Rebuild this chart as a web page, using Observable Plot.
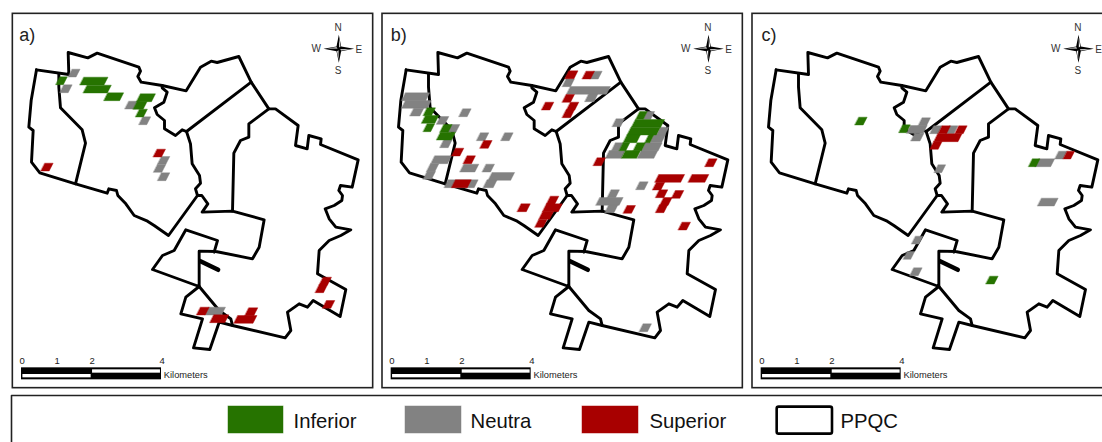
<!DOCTYPE html>
<html>
<head>
<meta charset="utf-8">
<style>html,body{margin:0;padding:0;background:#fff}svg{display:block}</style>
<script src="https://cdn.jsdelivr.net/npm/d3@7"></script>
<script src="https://cdn.jsdelivr.net/npm/@observablehq/plot@0.6"></script>
</head>
<body>
<script>
const panelNames = ["a)", "b)", "c)"];
const panelShift = [0, 1109, 2219];
const panelLabelNudge = [0, 6, 8];
const classNames = ["Neutra", "Inferior", "Superior"];
const classColors = ["#828282", "#267300", "#a80000"];

// Boundary of the study area (PPQC), one list per stretch
const boundaryOuter = [[108,208],[205,222],[203,156],[262,172],[290,158],[415,200],[420,212],[412,228],[422,245],[485,255],[557,271],[600,200],[632,182],[650,186],[715,168],[752,245],[805,325],[825,325],[893,375],[885,435],[920,445],[925,405],[962,415],[960,432],[1073,478],[1055,560],[1020,555],[1015,570],[1026,585],[1024,600],[1001,615],[974,625],[986,655],[1006,680],[1051,688],[1021,705],[986,720],[956,750],[951,820],[1036,867],[1019,948],[938,900],[921,920],[896,910],[861,935],[871,990],[854,1012],[696,975],[656,965],[628,1047],[579,1042],[606,955],[541,940],[556,890],[596,858]];
const boundarySouth = [[596,858],[656,930],[691,955],[696,975]];
const boundaryWest = [[108,208],[92,300],[85,380],[98,390],[93,485],[118,517],[225,550],[320,578],[325,565],[348,570],[352,585],[376,610],[401,645],[441,662],[461,675],[504,705],[591,585]];
const boundaryDivider = [[175,220],[175,260],[180,322],[245,388],[255,428],[225,550]];
const boundaryCentre = [[485,255],[485,262],[500,275],[490,305],[462,322],[470,342],[492,360],[492,385],[525,405],[545,388],[558,393],[570,430],[575,490],[597,525],[600,548],[585,565],[591,585],[604,585],[622,610],[605,635],[696,632],[791,658],[776,740],[756,775],[646,753],[596,752],[596,858],[456,807],[486,765],[521,750],[556,688],[651,720],[641,755]];
const boundaryDiagonal = [[558,393],[752,245]];
const boundaryEast = [[805,325],[745,370],[745,410],[720,420],[700,458],[696,632]];
const boundaryStub = [[600,782],[653,808]];

// Raster runs: left end of the row, row top, number of cells in the row
const neutraA = [[215,206,.95],[190,253,1],[385,302,1.3],[427,349,.95],[483,468,1],[471,492,1],[483,517,1],[625,920,2]];
const inferiorA = [[178,229,.9],[250,230,2.9],[260,254,2.9],[322,277,1.9],[420,280,1.8],[410,303,1.2],[417,326,.95]];
const superiorA = [[133,488,1],[470,446,1],[600,920,1.05],[640,943,1.8],[745,922,1.08],[712,945,2.3],[968,830,1],[956,853,1],[978,900,1]];

const neutraB = [[106,277,2.9],[106,300,3.1],[131,323,1.2],[278,325,1],[211,348,1],[244,372,1],[221,418,1],[331,397,1],[404,397,1],[194,466,2],[181,490,1],[171,513,1],[281,491,1.8],[348,491,1],[366,516,2.7],[351,538,1.2],[234,538,3.6],[588,235,1],[671,212,1],[601,258,4.8],[656,280,1.1],[738,355,1],[831,333,.9],[871,380,1],[851,403,1.4],[826,427,2],[736,427,1],[718,450,1.9],[813,450,2],[723,568,1],[689,591,2.8],[716,613,1.1],[809,544,1],[819,970,1]];
const inferiorB = [[171,322,1],[166,345,1.6],[171,370,.9],[221,372,1],[211,395,1.8],[809,333,.9],[796,357,3.5],[783,380,3.5],[771,403,1.6],[836,403,.6],[759,427,.8],[801,427,1],[766,450,1.8]];
const superiorB = [[256,443,1],[291,466,1],[341,420,1],[256,538,1.9],[453,610,1.1],[541,587,1],[529,610,1.9],[518,633,1.3],[506,657,1],[596,211,1.1],[648,212,1],[588,282,1],[526,305,1],[601,305,1],[588,328,1],[681,472,1],[866,522,3.1],[859,545,1],[868,568,1],[916,570,1],[881,591,1],[868,613,1],[966,522,2],[1016,475,1],[771,615,1],[936,665,1]];

const neutraC = [[546,352,1],[511,375,2],[524,398,1.1],[581,376,1],[628,376,1],[594,493,.9],[896,475,1.9],[956,452,1],[904,593,2],[526,707,.9],[501,753,.9],[521,802,1]];
const inferiorC = [[356,350,1],[488,373,.9],[877,475,.9],[749,827,1]];
const superiorC = [[606,376,1],[656,376,1],[593,400,2.9],[581,423,1],[981,452,.9]];

const scaleTicks = [0, 1, 2, 4];
const legendLabels = ["Inferior", "Neutra", "Superior", "PPQC"];
const compassLabels = ["N", "W", "E", "S"];
const compassStar = [[0,-42],[7,-7],[46,0],[7,7],[0,42],[-7,7],[-46,0],[-7,-7]];
const compassLights = [
  [[1,-33],[5,-7],[1,-4]], [[-1,33],[-5,7],[-1,4]],
  [[-36,-1],[-7,-5],[-4,-1]], [[36,1],[7,5],[4,1]]
];

// Build tables
const cellW = 25, cellH = 23.5, cellSkew = 12;
const runs = [
  [neutraA,0,0],[neutraB,1,0],[neutraC,2,0],
  [inferiorA,0,1],[inferiorB,1,1],[inferiorC,2,1],
  [superiorA,0,2],[superiorB,1,2],[superiorC,2,2]
];
const cellPts = [];
let id = 0;
for (const [list, p, c] of runs) for (const [x, y, n] of list) {
  id++;
  const dx = panelShift[p];
  for (const [px, py] of [[x,y],[x+n*cellW,y],[x+n*cellW-cellSkew,y+cellH],[x-cellSkew,y+cellH]])
    cellPts.push({x: px+dx, y: py, id, cls: classNames[c]});
}
const lines = [boundaryOuter,boundarySouth,boundaryWest,boundaryDivider,boundaryCentre,boundaryDiagonal,boundaryEast];
const boundaryPts = [], stubPts = [];
panelShift.forEach((dx, p) => {
  lines.forEach((l, i) => l.forEach(([x,y]) => boundaryPts.push({x: x+dx, y, id: p+"-"+i})));
  boundaryStub.forEach(([x,y]) => stubPts.push({x: x+dx, y, id: p}));
});
const panels = panelNames.map((name, i) => ({name, dx: panelShift[i], nudge: panelLabelNudge[i]}));

const centre = [1015, 145];
const starPts = [], lightPts = [];
panels.forEach(({dx}, p) => {
  compassStar.forEach(([a,b]) => starPts.push({x: centre[0]+dx+a, y: centre[1]+b, id: p}));
  compassLights.forEach((t, k) => t.forEach(([a,b]) => lightPts.push({x: centre[0]+dx+a, y: centre[1]+b, id: p+"-"+k})));
});
const compassOffsets = {N:[-2,-63], W:[-68,0], E:[60,2], S:[-2,65]};
const compassText = panels.flatMap(({dx}) => compassLabels.map(t => ({t, x: centre[0]+dx+compassOffsets[t][0], y: centre[1]+compassOffsets[t][1]})));

const kmUnits = 105, barLeft = 63;
const scaleText = panels.flatMap(({dx}) => scaleTicks.map(k => ({t: String(k), x: barLeft+dx+k*kmUnits+2})));
const bar = (a, b, y1, y2) => panels.map(({dx}) => ({x1: barLeft+dx+a*kmUnits, x2: barLeft+dx+b*kmUnits, y1, y2}));

const legendSwatch = [{c:"Inferior",x1:684,x2:849},{c:"Neutra",x1:1215,x2:1383},{c:"Superior",x1:1746,x2:1914}];
const legendText = [879,1410,1947,2520].map((x,i)=>({x,t:legendLabels[i]}));

const font = "Liberation Sans, Arial, sans-serif";
const chart = Plot.plot({
  width: 1102, height: 442,
  marginLeft: 0, marginRight: 0, marginTop: 0, marginBottom: 0,
  style: {background: "#fff"},
  x: {domain: [0, 3306], range: [0, 1102], axis: null},
  y: {domain: [0, 1326], range: [0, 442], axis: null},
  color: {domain: classNames, range: classColors},
  marks: [
    // panel frames
    Plot.rect(panels, {x1: d => 37+d.dx, x2: d => 1118+d.dx, y1: 40, y2: 1163, fill: "none", stroke: "#222", strokeWidth: 1.6}),
    // legend frame
    Plot.line([[33,1340],[33,1185],[3320,1185]], {x: d=>d[0], y: d=>d[1], stroke: "#222", strokeWidth: 1.6}),
    // boundary
    Plot.line(boundaryPts, {x:"x", y:"y", z:"id", stroke:"#000", strokeWidth:2.9, strokeLinejoin:"round", strokeLinecap:"round"}),
    Plot.line(stubPts, {x:"x", y:"y", z:"id", stroke:"#000", strokeWidth:4.4, strokeLinecap:"round"}),
    // raster cells
    Plot.line(cellPts, {x:"x", y:"y", z:"id", fill:"cls", stroke:"cls", strokeWidth:.4, curve:"linear-closed"}),
    // compass
    Plot.line(starPts, {x:"x", y:"y", z:"id", fill:"#000", stroke:"none", curve:"linear-closed"}),
    Plot.line(lightPts, {x:"x", y:"y", z:"id", fill:"#fff", stroke:"none", curve:"linear-closed"}),
    Plot.text(compassText, {x:"x", y:"y", text:"t", fontSize:10, fontFamily:font, fill:"#333"}),
    // panel letters
    Plot.text(panels, {x: d=>56+d.dx+d.nudge, y:104, text:"name", textAnchor:"start", fontSize:18, fontFamily:font, fill:"#222"}),
    // scale bars
    Plot.rect(bar(0,4,1102,1138), {x1:"x1",x2:"x2",y1:"y1",y2:"y2", fill:"#000"}),
    Plot.rect(bar(2.03,3.97,1108,1118), {x1:"x1",x2:"x2",y1:"y1",y2:"y2", fill:"#fff"}),
    Plot.rect(bar(.04,1.99,1122,1132), {x1:"x1",x2:"x2",y1:"y1",y2:"y2", fill:"#fff"}),
    Plot.text(scaleText, {x:"x", y:1082, text:"t", fontSize:9.5, fontFamily:font, fill:"#222"}),
    Plot.text(panels, {x:d=>490+d.dx, y:1125, text:()=>"Kilometers", textAnchor:"start", fontSize:9.3, fontFamily:font, fill:"#222"}),
    // legend
    Plot.rect(legendSwatch, {x1:"x1",x2:"x2",y1:1218,y2:1299, fill:"c", stroke:"c", strokeOpacity:.6, strokeWidth:.8}),
    Plot.rect([{x1:2330,x2:2496}], {x1:"x1",x2:"x2",y1:1220,y2:1301, fill:"#fff", stroke:"#000", strokeWidth:2.6, rx:2}),
    Plot.text(legendText, {x:"x", y:1262, text:"t", textAnchor:"start", fontSize:20.3, fontFamily:font, fill:"#111"})
  ]
});
document.body.appendChild(chart);
</script>
</body>
</html>
